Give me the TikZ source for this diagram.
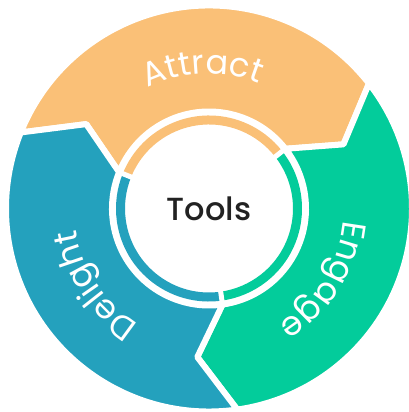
\documentclass[tikz,border=0pt]{standalone}
\usepackage{fontspec}
\setmainfont{Poppins}
\newfontfamily\toolsfont{Poppins Medium}
\usepackage{tikz}
\usetikzlibrary{decorations.text}
\definecolor{attractcol}{HTML}{FAC077}
\definecolor{engagecol}{HTML}{03CC9B}
\definecolor{delightcol}{HTML}{24A1BD}
\definecolor{inkcol}{HTML}{222222}
\newcommand{\ringfont}{\fontsize{33.5}{40}\selectfont\color{white}}
\tikzstyle{segment} = [draw=white, line width=6pt, line join=round]
\tikzstyle{innerarc} = [line width=9pt]
\tikzstyle{gapline} = [draw=white, line width=5pt]
\tikzstyle{ringtext} = [decorate, decoration={text along path, text align=center}]
\tikzstyle{hub} = [font=\toolsfont\fontsize{32}{38}\selectfont, text=inkcol, inner sep=0pt]
\begin{document}
\begin{tikzpicture}[x=1pt,y=1pt]
	\useasboundingbox (-209,-203.5) rectangle (200,208.5);
	\fill[white] (-209,-203.5) rectangle (200,208.5);
	% outer chevron segments, each pointing clockwise into the next
	\foreach \a/\col in {158/attractcol, 38/engagecol, -82/delightcol}{
		\filldraw[segment, fill=\col] (\a:203) arc[start angle=\a, end angle=\a-120, radius=203]
			-- (\a-132.5:149) -- (\a-120:97) arc[start angle=\a-120, end angle=\a, radius=97]
			-- (\a-12.5:149) -- cycle;
		\draw[innerarc, \col] (\a:88.5) arc[start angle=\a, end angle=\a-120, radius=88.5];
	}
	\foreach \a in {158, 38, -82}
		\draw[gapline] (\a:78) -- (\a:98);
	% labels along the ring
	\path[ringtext, decoration={text={|\ringfont|Attract}}] (142.5:135) arc[start angle=142.5, end angle=42.5, radius=135];
	\path[ringtext, decoration={text={|\ringfont|Engage}}] (18:135) arc[start angle=18, end angle=-82, radius=135];
	\path[ringtext, decoration={text={|\ringfont|Delight}}] (-96:135) arc[start angle=-96, end angle=-196, radius=135];
	\node[hub] (tools) at (0,0) {Tools};
\end{tikzpicture}
\end{document}
